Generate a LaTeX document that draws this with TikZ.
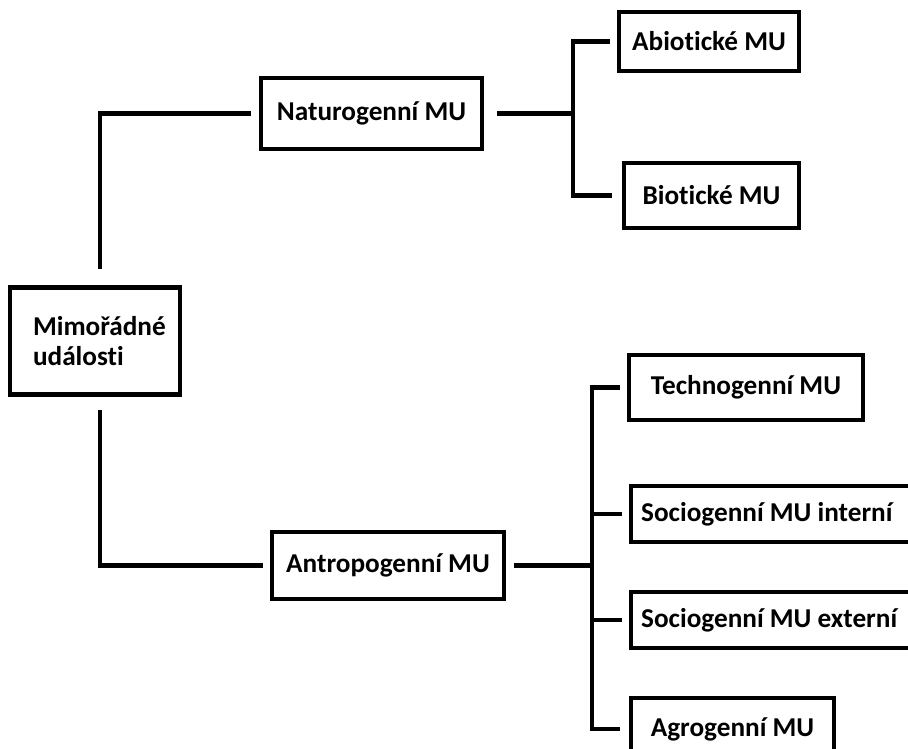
\documentclass[tikz,border=0pt]{standalone}
\usepackage{fontspec}
\setmainfont[Ligatures=NoCommon]{Carlito}

\begin{document}
\begin{tikzpicture}[x=0.02cm,y=-0.02cm]
        \tikzstyle{every node}+=[font=\bfseries\fontsize{15.5}{17.5}\selectfont, inner sep=0pt]
        \tikzstyle{box}=[draw=black, line width=2.5pt]
        \tikzstyle{link}=[draw=black, line width=2.4pt]
        \path[use as bounding box, clip] (0,0) rectangle (908,749);
        \node [box, minimum width=3.4cm, minimum height=2.14cm, text width=2.48cm, inner xsep=0.46cm, align=left] (mimo) at (95,341) {Mimořádné\\události};
        \node [box, minimum width=4.42cm, minimum height=1.42cm] (natur) at (371.5,113.5) {Naturogenní MU};
        \node [box, minimum width=4.64cm, minimum height=1.34cm] (antrop) at (388,565.5) {Antropogenní MU};
        \node [box, minimum width=3.6cm, minimum height=1.18cm] (abio) at (709,41.5) {Abiotické MU};
        \node [box, minimum width=3.5cm, minimum height=1.3cm] (bio) at (711.5,195.5) {Biotické MU};
        \node [box, minimum width=4.68cm, minimum height=1.3cm] (tech) at (746,387.5) {Technogenní MU};
        \node [box, anchor=west, minimum height=1.12cm, inner xsep=0.2cm] (socint) at (629,514) {\makebox[5.4cm][l]{Sociogenní MU interní}};
        \node [box, anchor=west, minimum height=1.12cm, inner xsep=0.2cm] (socext) at (629,620) {\makebox[5.4cm][l]{Sociogenní MU externí}};
        \node [box, minimum width=4.06cm, minimum height=1.24cm] (agro) at (732.5,729) {Agrogenní MU};
        \coordinate (nbr) at (573,113.5);
        \coordinate (abr) at (592,565.5);
        \draw [link] ([xshift=0.1cm,yshift=0.32cm]mimo.north) |- ([xshift=-0.16cm]natur.west);
        \draw [link] ([xshift=0.1cm,yshift=-0.26cm]mimo.south) |- ([xshift=-0.14cm]antrop.west);
        \draw [link] ([xshift=0.26cm]natur.east) -- (nbr);
        \draw [link] ([xshift=-0.14cm]abio.west) -| (nbr) |- ([xshift=-0.2cm]bio.west);
        \draw [link] ([xshift=0.16cm]antrop.east) -- (abr);
        \draw [link] ([xshift=-0.14cm]tech.west) -| (abr) |- ([xshift=-0.18cm]agro.west);
        \draw [link] ([xshift=-0.14cm]socint.west) -- (socint.west -| abr);
        \draw [link] ([xshift=-0.14cm]socext.west) -- (socext.west -| abr);
\end{tikzpicture}
\end{document}
